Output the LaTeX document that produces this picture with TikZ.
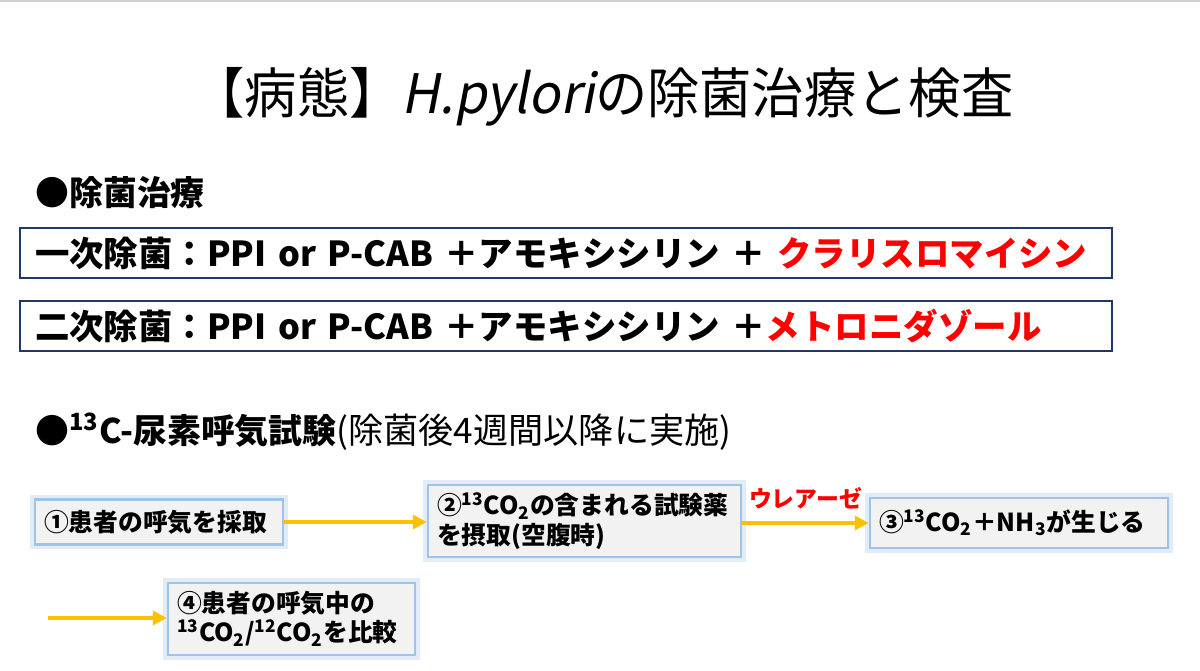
\documentclass[tikz,border=0pt]{standalone}
\usepackage{fontspec}
\setmainfont{Noto Sans CJK JP}
\newfontfamily\slantjp{Noto Sans CJK JP}[FakeSlant=0.2]
\usetikzlibrary{arrows.meta}
\definecolor{navy}{HTML}{1F3864}
\definecolor{boxblue}{HTML}{9DC3E6}
\definecolor{boxgray}{HTML}{F2F2F2}
\definecolor{arrowyellow}{HTML}{FFC000}
\definecolor{topline}{HTML}{D0D0D0}
\tikzset{
  treat/.style={draw=navy, line width=0.045cm, fill=white, minimum width=21.84cm, minimum height=1.0cm,
    inner xsep=0.3cm, text width=21.24cm, align=left, font=\bfseries\fontsize{19.6}{23}\selectfont},
  flow/.style={draw=boxblue, line width=0.05cm, fill=boxgray,
    preaction={draw=boxblue, line width=0.2cm, opacity=0.3},
    inner xsep=0.18cm, align=left, font=\bfseries\fontsize{14.1}{16.6}\selectfont},
  arr/.style={draw=arrowyellow, line width=0.07cm, -{Triangle[length=0.28cm,width=0.28cm]}},
  heading/.style={anchor=west, inner sep=0pt, font=\bfseries\fontsize{19.3}{23}\selectfont},
}
\begin{document}
\begin{tikzpicture}[x=0.02cm,y=-0.02cm]
\useasboundingbox (0,0) rectangle (1200,671);
\fill[white] (0,0) rectangle (1200,671);
\draw[topline, line width=0.04cm] (0,1) -- (1200,1);
\node (title) at (603,97) {\scalebox{0.96}[1]{\fontsize{31}{36}\selectfont 【病態】{\slantjp H.pylori}の除菌治療と検査}};
\node[heading] (h1) at (35,193) {●除菌治療};
\node[treat] (t1) at (566,253) {一次除菌：PPI or P-CAB ＋アモキシシリン ＋ \textcolor{red}{クラリスロマイシン}};
\node[treat] (t2) at (566,326) {二次除菌：PPI or P-CAB ＋アモキシシリン ＋\textcolor{red}{メトロニダゾール}};
\node[heading] (h2) at (35,432) {●\textsuperscript{13}C-尿素呼気試験{\mdseries\fontsize{20}{23}\selectfont(除菌後4週間以降に実施)}};
\node[flow, minimum width=4.96cm, minimum height=0.9cm, text width=4.6cm] (b1) at (159,522) {①患者の呼気を採取};
\node[flow, minimum width=6.26cm, minimum height=1.44cm, text width=5.9cm] (b2) at (584.5,521) {②\textsuperscript{13}CO\textsubscript{2}の含まれる試験薬\\を摂取(空腹時)};
\node[flow, minimum width=5.96cm, minimum height=1.0cm, text width=5.6cm] (b3) at (1019,523) {③\textsuperscript{13}CO\textsubscript{2}＋NH\textsubscript{3}が生じる};
\node[flow, minimum width=4.94cm, minimum height=1.44cm, text width=4.58cm] (b4) at (291.5,619) {④患者の呼気中の\\\textsuperscript{13}CO\textsubscript{2}/\textsuperscript{12}CO\textsubscript{2}を比較};
\draw[arr] (b1.east) -- (b1.east -| b2.west);
\draw[arr] (b2.east |- b3.west) -- node[above, yshift=0.12cm, text=red, font=\bfseries\fontsize{13}{15}\selectfont] (lab) {ウレアーゼ} (b3.west);
\coordinate (s4) at (48,618);
\draw[arr] (s4) -- (s4 -| b4.west);
\end{tikzpicture}
\end{document}
